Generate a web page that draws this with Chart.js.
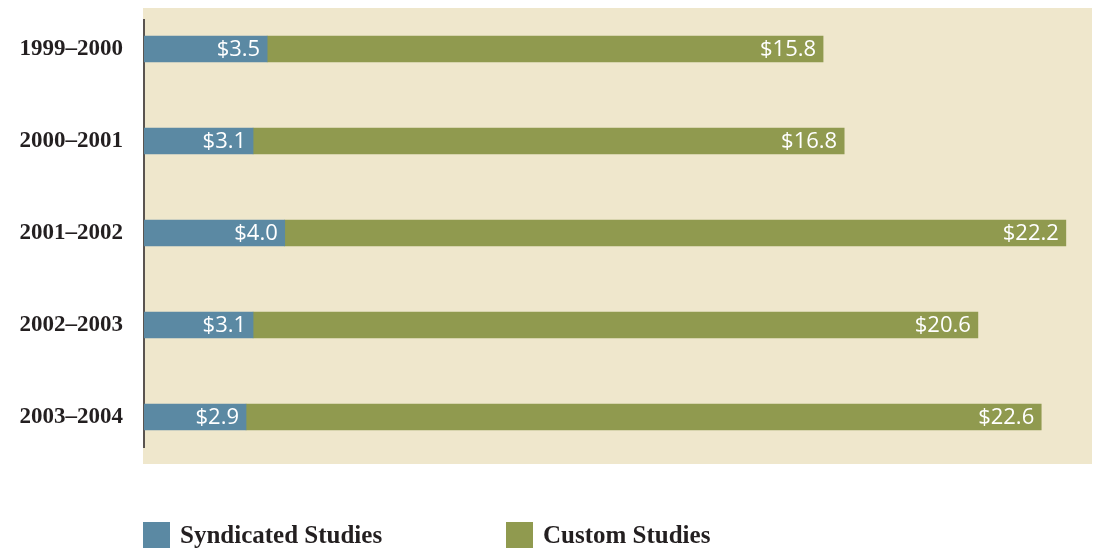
<!DOCTYPE html>
<html>
<head>
<meta charset="utf-8">
<script src="https://cdn.jsdelivr.net/npm/chart.js@4/dist/chart.umd.min.js"></script>
<style>
  body { margin: 0; background: #ffffff; }
  #wrap { position: relative; width: 1094px; height: 550px; }
  #legend { position: absolute; top: 522px; left: 143px; display: flex; font-family: "Liberation Serif", serif; font-weight: bold; font-size: 25px; line-height: 26px; color: #231f20; }
  .leg-item { display: flex; align-items: center; width: 363px; }
  .leg-box { width: 27px; height: 26px; margin-right: 10px; }
</style>
</head>
<body>
<div id="wrap">
  <canvas id="chart" width="1094" height="550"></canvas>
  <div id="legend"></div>
</div>
<script>
// Data
const periods = ['1999–2000', '2000–2001', '2001–2002', '2002–2003', '2003–2004'];
const syndicated = [3.5, 3.1, 4.0, 3.1, 2.9];
const custom = [15.8, 16.8, 22.2, 20.6, 22.6];
const seriesNames = ['Syndicated Studies', 'Custom Studies'];
const seriesColors = ['#5b89a3', '#909a4f'];

// Beige panel + left axis line behind the bars
const panelPlugin = {
  id: 'panel',
  beforeDatasetsDraw(chart) {
    const { ctx, chartArea } = chart;
    ctx.save();
    ctx.fillStyle = '#efe7cc';
    ctx.fillRect(chartArea.left - 1, chartArea.top + 5, chartArea.right - chartArea.left - 1, chartArea.bottom - chartArea.top - 4);
    ctx.strokeStyle = '#5a5450';
    ctx.lineWidth = 2;
    ctx.beginPath();
    ctx.moveTo(chartArea.left, chartArea.top + 16);
    ctx.lineTo(chartArea.left, chartArea.bottom - 15);
    ctx.stroke();
    ctx.restore();
  }
};

// White value labels at the right end of each segment
const valueLabels = {
  id: 'valueLabels',
  afterDatasetsDraw(chart) {
    const { ctx } = chart;
    ctx.save();
    ctx.fillStyle = '#ffffff';
    ctx.font = '22px "Open Sans", sans-serif';
    ctx.textAlign = 'right';
    ctx.textBaseline = 'middle';
    chart.data.datasets.forEach((ds, i) => {
      chart.getDatasetMeta(i).data.forEach((bar, j) => {
        ctx.fillText('$' + ds.data[j].toFixed(1), bar.x - 7, bar.y + 1);
      });
    });
    ctx.restore();
  }
};

const chart = new Chart(document.getElementById('chart').getContext('2d'), {
  type: 'bar',
  data: {
    labels: periods,
    datasets: [
      { label: seriesNames[0], data: syndicated, backgroundColor: seriesColors[0], barThickness: 26 },
      { label: seriesNames[1], data: custom, backgroundColor: seriesColors[1], barThickness: 26 }
    ]
  },
  options: {
    indexAxis: 'y',
    responsive: false,
    animation: false,
    layout: { padding: { top: 3, bottom: 87, right: 0 } },
    plugins: { legend: { display: false }, tooltip: { enabled: false } },
    scales: {
      x: { stacked: true, min: 0, max: 27, display: false },
      y: {
        stacked: true,
        afterFit(scale) {
          scale.width = 144;
          scale.paddingTop = 0;
          scale.paddingBottom = 0;
        },
        grid: { display: false, drawTicks: false },
        border: { display: false },
        ticks: {
          padding: 21,
          color: '#231f20',
          font: { family: '"Liberation Serif", serif', weight: 'bold', size: 23 }
        }
      }
    }
  },
  plugins: [panelPlugin, valueLabels]
});

// HTML legend built from the datasets
document.getElementById('legend').innerHTML = chart.data.datasets.map(ds => `
  <div class="leg-item"><span class="leg-box" style="background:${ds.backgroundColor}"></span>${ds.label}</div>
`).join('');
</script>
</body>
</html>
